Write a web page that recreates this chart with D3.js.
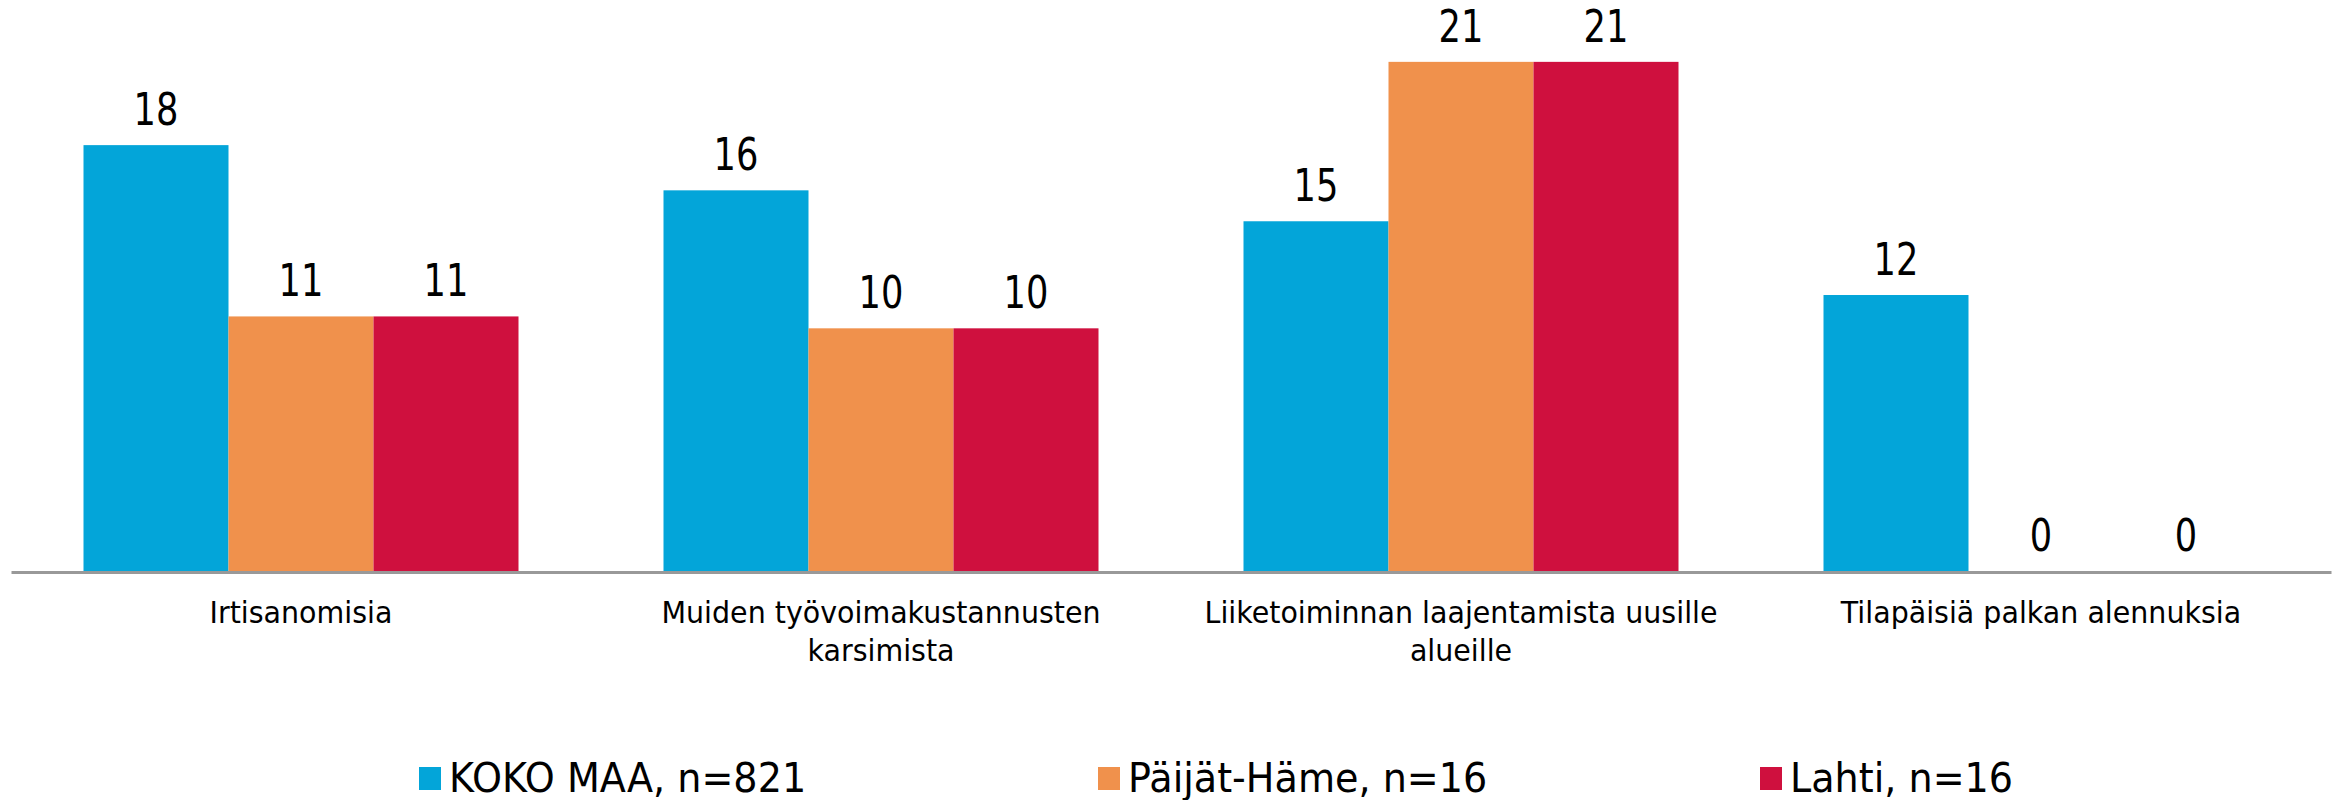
<!DOCTYPE html>
<html>
<head>
<meta charset="utf-8">
<script src="https://cdn.jsdelivr.net/npm/d3@7"></script>
<style>
  body { margin: 0; background: #fff; }
  text { font-family: "DejaVu Sans", sans-serif; fill: #000; }
</style>
</head>
<body>
<svg id="chart"></svg>
<script>
// data
const categories = [
  ["Irtisanomisia"],
  ["Muiden työvoimakustannusten", "karsimista"],
  ["Liiketoiminnan laajentamista uusille", "alueille"],
  ["Tilapäisiä palkan alennuksia"]
];
const seriesNames = ["KOKO MAA, n=821", "Päijät-Häme, n=16", "Lahti, n=16"];
const kokoMaa = [17.9, 16.0, 14.7, 11.6];
const paijatHame = [10.7, 10.2, 21.4, 0];
const lahti = [10.7, 10.2, 21.4, 0];
const colors = ["#03a5d9", "#f0914c", "#cf103e"];

const seriesValues = [kokoMaa, paijatHame, lahti];

const W = 2336, H = 800;
const margin = { top: 0, right: 5, bottom: 229, left: 11 };
const width = W - margin.left - margin.right,
  height = H - margin.top - margin.bottom;

const svg = d3.select("#chart").attr("width", W).attr("height", H);
const g = svg.append("g").attr("transform", `translate(${margin.left},${margin.top})`);

// scales
const x0 = d3.scaleBand()
  .domain(d3.range(categories.length))
  .range([0, width])
  .paddingInner(0.25)
  .paddingOuter(0.125);

const x1 = d3.scaleBand()
  .domain(d3.range(seriesNames.length))
  .range([0, x0.bandwidth()]);

const y = d3.scaleLinear().domain([0, 24]).range([height, 0]);

const fmt = d3.format(".0f");

// bars
const groups = g.selectAll(".grp")
  .data(categories)
  .enter()
  .append("g")
  .attr("class", "grp")
  .attr("transform", (d, i) => `translate(${x0(i)},0)`);

groups.selectAll("rect")
  .data((d, i) => seriesValues.map((s, j) => ({ s: j, v: s[i] })))
  .enter()
  .append("rect")
  .attr("x", d => x1(d.s))
  .attr("y", d => y(d.v))
  .attr("width", x1.bandwidth())
  .attr("height", d => height - y(d.v))
  .attr("fill", d => colors[d.s]);

// value labels (narrow font look)
const valSx = 0.8;
groups.selectAll(".val")
  .data((d, i) => seriesValues.map((s, j) => ({ s: j, v: s[i] })))
  .enter()
  .append("text")
  .attr("class", "val")
  .attr("transform", d => `translate(${x1(d.s) + x1.bandwidth() / 2},${y(d.v) - 20}) scale(${valSx},1)`)
  .attr("text-anchor", "middle")
  .style("font-size", "44px")
  .text(d => fmt(d.v));

// x axis line
const xAxis = g.append("g")
  .attr("transform", `translate(0,${height + 1})`)
  .call(d3.axisBottom(x0).tickSize(0).tickFormat(""));
xAxis.select(".domain").attr("stroke", "#999").attr("stroke-width", 3);

// category labels
const catSx = 0.95;
categories.forEach((lines, i) => {
  const t = g.append("text")
    .attr("transform", `translate(${x0(i) + x0.bandwidth() / 2},${height + 52}) scale(${catSx},1)`)
    .attr("text-anchor", "middle")
    .style("font-size", "30px");
  lines.forEach((ln, k) => {
    t.append("tspan").attr("x", 0).attr("dy", k === 0 ? 0 : 38).text(ln);
  });
});

// legend
const legSx = 0.93;
const legendPos = [419, 1098, 1760];
const leg = svg.selectAll(".leg")
  .data(seriesNames)
  .enter()
  .append("g")
  .attr("class", "leg")
  .attr("transform", (d, i) => `translate(${legendPos[i]},767)`);
leg.append("rect")
  .attr("width", 22)
  .attr("height", 23)
  .attr("fill", (d, i) => colors[i]);
leg.append("text")
  .attr("transform", `translate(30,25) scale(${legSx},1)`)
  .style("font-size", "41px")
  .text(d => d);
</script>
</body>
</html>
